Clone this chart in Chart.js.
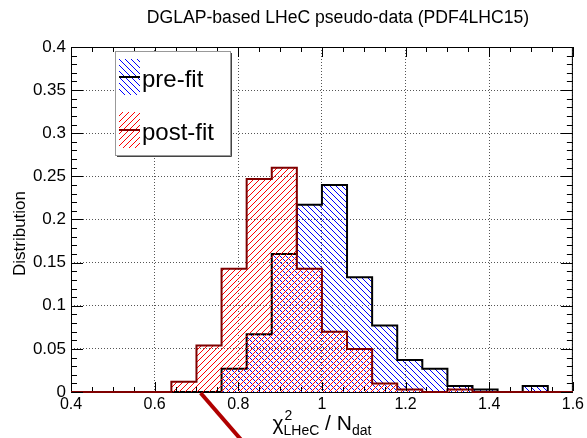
<!DOCTYPE html>
<html lang="en">
<head>
<meta charset="UTF-8">
<title>DGLAP-based LHeC pseudo-data (PDF4LHC15)</title>
<script src="https://cdn.jsdelivr.net/npm/chart.js"></script>
<style>
  html, body { margin: 0; padding: 0; background: #fff; }
  #wrap { width: 587px; height: 438px; }
</style>
</head>
<body>
<div id="wrap"><canvas id="chi2Chart" width="587" height="438"></canvas></div>
<script>
  // histogram of chi2/Ndat, 20 bins of width 0.06 between 0.4 and 1.6
  const binEdges = [0.40, 0.46, 0.52, 0.58, 0.64, 0.70, 0.76, 0.82, 0.88, 0.94, 1.00,
                    1.06, 1.12, 1.18, 1.24, 1.30, 1.36, 1.42, 1.48, 1.54, 1.60];
  const preFit  = [0, 0, 0, 0, 0, 0, 0.027, 0.067, 0.160, 0.217, 0.240,
                   0.133, 0.077, 0.037, 0.027, 0.007, 0.003, 0, 0.007, 0];
  const postFit = [0, 0, 0, 0, 0.012, 0.054, 0.143, 0.247, 0.260, 0.143, 0.070,
                   0.050, 0.010, 0.003, 0, 0.003, 0, 0, 0, 0];
  const xTicks = [0.4, 0.6, 0.8, 1.0, 1.2, 1.4, 1.6];
  const yTicks = [0, 0.05, 0.1, 0.15, 0.2, 0.25, 0.3, 0.35, 0.4];
  const seriesNames = ['pre-fit', 'post-fit'];

  const FONT = '"Liberation Sans", Arial, sans-serif';
  const canvas = document.getElementById('chi2Chart');
  const mainCtx = canvas.getContext('2d');

  // ROOT-like hatch fill, drawn pixel by pixel: dir 1 = "/", dir -1 = "\"
  function hatch(color, dir) {
    const s = 6;
    const c = document.createElement('canvas');
    c.width = c.height = s;
    const g = c.getContext('2d');
    g.fillStyle = color;
    for (let x = 0; x < s; x++) {
      for (let y = 0; y < s; y++) {
        const k = dir > 0 ? (x + y) % s : ((x - y) % s + s) % s;
        if (k === 0) g.fillRect(x, y, 1, 1);
      }
    }
    return mainCtx.createPattern(c, 'repeat');
  }

  const blueHatch = hatch('#0000ff', -1);
  const redHatch = hatch('#ff0000', 1);

  // step outline points: left and right edge of every bin
  function histPoints(vals) {
    const pts = [];
    vals.forEach((v, i) => {
      pts.push({ x: binEdges[i], y: v });
      pts.push({ x: binEdges[i + 1], y: v });
    });
    return pts;
  }

  function fmt(v) { return String(+v.toFixed(2)); }

  // frame under the histograms, everything else on top
  const rootStyle = {
    id: 'rootStyle',
    beforeDatasetsDraw(chart) {
      const ctx = chart.ctx;
      const a = chart.chartArea;
      ctx.save();
      ctx.strokeStyle = '#000';
      ctx.lineWidth = 1;
      ctx.strokeRect(a.left + 0.5, a.top + 0.5, a.right - a.left - 1, a.bottom - a.top);
      ctx.restore();
    },
    afterDraw(chart) {
      const ctx = chart.ctx;
      const a = chart.chartArea;
      const xs = chart.scales.x, ys = chart.scales.y;
      ctx.save();

      // inner ticks
      ctx.strokeStyle = '#000';
      ctx.lineWidth = 1;
      ctx.beginPath();
      for (let v = 0; v <= 0.4001; v += 0.01) {
        const y = Math.round(ys.getPixelForValue(v)) + 0.5;
        const major = Math.abs(v / 0.05 - Math.round(v / 0.05)) < 1e-6;
        const len = major ? 12 : 6;
        ctx.moveTo(a.left, y); ctx.lineTo(a.left + len, y);
        ctx.moveTo(a.right, y); ctx.lineTo(a.right - len, y);
      }
      for (let v = 0.4; v <= 1.6001; v += 0.05) {
        const x = Math.round(xs.getPixelForValue(v)) + 0.5;
        const major = Math.abs(v / 0.2 - Math.round(v / 0.2)) < 1e-6;
        const len = major ? 10 : 5;
        ctx.moveTo(x, a.bottom - 1); ctx.lineTo(x, a.bottom - len);
        ctx.moveTo(x, a.top); ctx.lineTo(x, a.top + len);
      }
      ctx.stroke();

      // stray red stroke below the axis
      ctx.strokeStyle = '#b00000';
      ctx.lineWidth = 4;
      const x0 = xs.getPixelForValue(0.71);
      ctx.beginPath();
      ctx.moveTo(x0, a.bottom + 1);
      ctx.lineTo(x0 + 45, a.bottom + 53);
      ctx.stroke();

      // title
      ctx.fillStyle = '#000';
      ctx.font = '17.6px ' + FONT;
      ctx.textAlign = 'center';
      ctx.textBaseline = 'alphabetic';
      ctx.fillText('DGLAP-based LHeC pseudo-data (PDF4LHC15)', 338, 23);

      // y title
      ctx.save();
      ctx.translate(25, (a.top + a.bottom) / 2 + 14);
      ctx.rotate(-Math.PI / 2);
      ctx.font = '17px ' + FONT;
      ctx.fillText('Distribution', 0, 0);
      ctx.restore();

      // x title: chi^2_LHeC / N_dat
      const big = '21px ' + FONT, small = '14px ' + FONT;
      ctx.textAlign = 'left';
      ctx.font = big;
      const wChi = ctx.measureText('\u03C7').width;
      const wSep = ctx.measureText(' / N').width;
      ctx.font = small;
      const wSub1 = ctx.measureText('LHeC').width;
      const wSub2 = ctx.measureText('dat').width;
      const total = wChi + wSub1 + wSep + wSub2;
      let cx = (a.left + a.right) / 2 - total / 2;
      const by = 430;
      ctx.font = big;
      ctx.fillText('\u03C7', cx, by);
      cx += wChi;
      ctx.font = small;
      ctx.fillText('2', cx + 1, by - 10);
      ctx.fillText('LHeC', cx, by + 5);
      cx += wSub1;
      ctx.font = big;
      ctx.fillText(' / N', cx, by);
      cx += wSep;
      ctx.font = small;
      ctx.fillText('dat', cx, by + 5);

      // legend
      const L = { x: 115, y: 51, w: 115, h: 104 };
      ctx.fillStyle = '#fff';
      ctx.fillRect(L.x, L.y, L.w, L.h);
      ctx.strokeStyle = '#999';
      ctx.lineWidth = 1;
      ctx.strokeRect(L.x + 0.5, L.y + 0.5, L.w, L.h);
      ctx.strokeStyle = '#444';
      ctx.beginPath();
      ctx.moveTo(L.x + L.w + 1.5, L.y + 2); ctx.lineTo(L.x + L.w + 1.5, L.y + L.h + 1.5);
      ctx.lineTo(L.x + 2, L.y + L.h + 1.5);
      ctx.stroke();

      const entries = [
        { name: seriesNames[0], fill: blueHatch, line: '#000', top: 59 },
        { name: seriesNames[1], fill: redHatch, line: '#7f0000', top: 112 }
      ];
      entries.forEach(e => {
        ctx.fillStyle = e.fill;
        ctx.fillRect(119, e.top, 21, 36);
        ctx.strokeStyle = e.line;
        ctx.lineWidth = 2;
        ctx.beginPath();
        ctx.moveTo(119, e.top + 18); ctx.lineTo(140, e.top + 18);
        ctx.stroke();
        ctx.fillStyle = '#000';
        ctx.font = '24px ' + FONT;
        ctx.textAlign = 'left';
        ctx.fillText(e.name, 142, e.top + 28);
      });

      ctx.restore();
    }
  };

  new Chart(canvas, {
    type: 'line',
    data: {
      datasets: [{
        label: seriesNames[1],
        data: histPoints(postFit),
        borderColor: '#7f0000',
        borderWidth: 2,
        backgroundColor: redHatch,
        fill: 'origin',
        pointRadius: 0,
        tension: 0,
        clip: 3
      }, {
        label: seriesNames[0],
        data: histPoints(preFit),
        borderColor: '#000',
        borderWidth: 2,
        backgroundColor: blueHatch,
        fill: 'origin',
        pointRadius: 0,
        tension: 0,
        clip: 3
      }]
    },
    options: {
      responsive: false,
      animation: false,
      devicePixelRatio: 1,
      layout: { padding: { top: 47, right: 8, left: 0, bottom: 0 }, autoPadding: false },
      plugins: {
        legend: { display: false },
        tooltip: { enabled: false }
      },
      scales: {
        x: {
          type: 'linear',
          min: 0.4,
          max: 1.6,
          afterBuildTicks: s => { s.ticks = xTicks.map(v => ({ value: v })); },
          afterFit: s => { s.height = 46; },
          grid: { color: '#555', drawTicks: false, lineWidth: 1 },
          border: { display: false, dash: [1, 2] },
          ticks: {
            padding: 3,
            maxRotation: 0,
            autoSkip: false,
            color: '#000',
            font: { family: FONT, size: 16 },
            callback: v => fmt(v)
          }
        },
        y: {
          min: 0,
          max: 0.4,
          afterBuildTicks: s => { s.ticks = yTicks.map(v => ({ value: v })); },
          afterFit: s => { s.width = 71; },
          grid: { color: '#555', drawTicks: false, lineWidth: 1 },
          border: { display: false, dash: [1, 2] },
          ticks: {
            padding: 5,
            autoSkip: false,
            color: '#000',
            font: { family: FONT, size: 17 },
            callback: v => fmt(v)
          }
        }
      }
    },
    plugins: [rootStyle]
  });
</script>
</body>
</html>
